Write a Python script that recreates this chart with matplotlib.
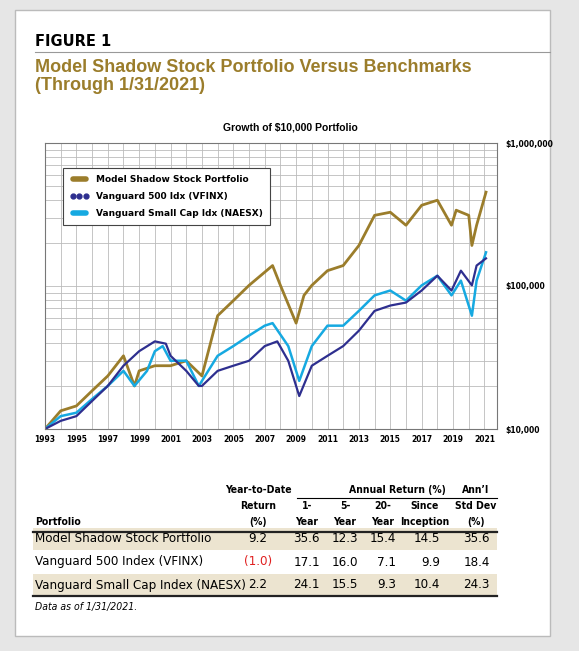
import matplotlib.pyplot as plt
import matplotlib.ticker as mticker
from matplotlib.lines import Line2D
from matplotlib.patches import Rectangle

# growth of $10,000
shadow_t = [1993.0, 1994, 1995, 1996, 1997, 1998, 1998.7, 1999, 2000, 2001, 2002, 2003.0, 2004, 2005, 2006,
            2007.5, 2008, 2009.0, 2009.5, 2010, 2011, 2012, 2013, 2014, 2015, 2016, 2017, 2018, 2018.9,
            2019.2, 2020.0, 2020.2, 2020.5, 2021.1]
shadow_v = [10000, 13400, 14500, 18500, 23500, 32500, 20000, 25500, 27700, 27700, 30000, 23500, 62000, 79000,
            101000, 139000, 101000, 55000, 86000, 101000, 128000, 139000, 192000, 312000, 328000, 266000,
            367000, 398000, 266000, 339000, 312000, 192000, 266000, 453000]

vfinx_t = [1993.0, 1994, 1995, 1996, 1997, 1998, 1999, 2000, 2000.7, 2001, 2002, 2002.8, 2003, 2004, 2005,
           2006, 2007, 2007.8, 2008.5, 2009.2, 2010, 2011, 2012, 2013, 2014, 2015, 2016, 2017, 2018, 2018.9,
           2019.5, 2020.2, 2020.5, 2021.1]
vfinx_v = [10000, 11400, 12300, 15700, 20000, 27700, 35000, 41000, 39500, 32500, 25500, 20000, 20000, 25500,
           27700, 30000, 38000, 41000, 30000, 17000, 27700, 32500, 38000, 48700, 67000, 73000, 76600, 93000,
           118000, 93000, 128000, 101000, 139000, 156000]

naesx_t = [1993.0, 1994, 1995, 1996, 1997, 1998, 1998.7, 1999.5, 2000, 2000.5, 2001, 2002, 2002.8, 2003,
           2004, 2005, 2006, 2007, 2007.5, 2008.5, 2009.2, 2010, 2011, 2012, 2013, 2014, 2015, 2016, 2017,
           2018, 2018.9, 2019.5, 2020.2, 2020.5, 2021.1]
naesx_v = [10000, 12300, 13000, 16200, 20000, 25500, 20000, 25500, 35000, 38000, 30000, 30000, 20000, 21700,
           32500, 38000, 45000, 52800, 55000, 38000, 21700, 38000, 52800, 52800, 67000, 86000, 93000, 79000,
           101000, 118000, 86000, 109000, 62000, 109000, 172000]

rows = ["Model Shadow Stock Portfolio", "Vanguard 500 Index (VFINX)", "Vanguard Small Cap Index (NAESX)"]
ytd = ["9.2", "(1.0)", "2.2"]
yr1 = ["35.6", "17.1", "24.1"]
yr5 = ["12.3", "16.0", "15.5"]
yr20 = ["15.4", "7.1", "9.3"]
incep = ["14.5", "9.9", "10.4"]
stdev = ["35.6", "18.4", "24.3"]

GOLD = "#9b7d2b"
NAVY = "#2e2f8f"
CYAN = "#16a9e1"
W, H = 579, 651

fig = plt.figure(figsize=(W / 100, H / 100), dpi=100)
fig.patch.set_facecolor("#e6e6e6")
fig.patches.append(Rectangle((15 / W, 1 - 636 / H), 535 / W, 626 / H, transform=fig.transFigure,
                             facecolor="white", edgecolor="#bbbbbb", lw=1, zorder=-10))

def fx(x):
    return x / W

def fy(y):
    return 1 - y / H

fig.text(fx(35), fy(42), "FIGURE 1", fontsize=10.5, fontweight="bold", va="center")
fig.add_artist(Line2D([fx(35), fx(550)], [fy(52), fy(52)], color="#999999", lw=0.8))
fig.text(fx(35), fy(67), "Model Shadow Stock Portfolio Versus Benchmarks", fontsize=13, fontweight="bold",
         color=GOLD, va="center", family="Liberation Sans")
fig.text(fx(35), fy(86), "(Through 1/31/2021)", fontsize=13, fontweight="bold", color=GOLD, va="center",
         family="Liberation Sans")
fig.text(fx(290), fy(127), "Growth of $10,000 Portfolio", fontsize=7.5, fontweight="bold", ha="center",
         va="center", family="Liberation Sans")

ax = fig.add_axes([fx(45), fy(429), fx(452), (429 - 143) / H])
ax.plot(shadow_t, shadow_v, color=GOLD, lw=2)
ax.plot(naesx_t, naesx_v, color=CYAN, lw=1.8)
ax.plot(vfinx_t, vfinx_v, color=NAVY, lw=1.6)
ax.set_yscale("log")
ax.set_ylim(10000, 1000000)
ax.set_xlim(1993, 2021.8)
ax.set_xticks(range(1993, 2022, 2))
ax.set_xticks(range(1993, 2022), minor=True)
ax.tick_params(axis="x", which="both", length=0, labelsize=5.5, pad=4)
for t in ax.get_xticklabels():
    t.set_fontweight("bold")
ax.yaxis.tick_right()
ax.set_yticks([10000, 100000, 1000000])
ax.set_yticklabels(["$10,000", "$100,000", "$1,000,000"], fontsize=5.5, fontweight="bold")
ax.yaxis.set_minor_locator(mticker.LogLocator(subs=range(2, 10)))
ax.yaxis.set_minor_formatter(mticker.NullFormatter())
ax.tick_params(axis="y", which="both", length=0, pad=6)
ax.grid(True, which="both", color="#bbbbbb", lw=0.6)
for s in ax.spines.values():
    s.set_color("#777777")

handles = [Line2D([], [], color=GOLD, lw=4, solid_capstyle="round"),
           Line2D([], [], color=NAVY, ls="none", marker="o", ms=3.5),
           Line2D([], [], color=CYAN, lw=4, solid_capstyle="round")]
leg = ax.legend(handles, ["Model Shadow Stock Portfolio", "Vanguard 500 Idx (VFINX)", "Vanguard Small Cap Idx (NAESX)"],
                loc="upper left", bbox_to_anchor=(0.03, 0.93), prop={"weight": "bold", "size": 6.5},
                numpoints=3, handlelength=2, fancybox=False, edgecolor="#444444", framealpha=1, borderpad=0.8,
                labelspacing=0.9)
leg.get_frame().set_linewidth(0.8)

# table
tf = "DejaVu Sans"
hdr = dict(fontsize=7.5, fontweight="bold", family=tf, fontstretch="condensed", va="center", ha="center")
fig.text(fx(258), fy(490), "Year-to-Date", **hdr)
fig.text(fx(258), fy(506), "Return", **hdr)
fig.text(fx(258), fy(522), "(%)", **hdr)
fig.text(fx(397), fy(490), "Annual Return (%)", **hdr)
fig.add_artist(Line2D([fx(297), fx(497)], [fy(498), fy(498)], color="black", lw=0.8))
fig.text(fx(476), fy(490), "Ann\u2019l", **hdr)
fig.text(fx(476), fy(506), "Std Dev", **hdr)
fig.text(fx(476), fy(522), "(%)", **hdr)
for x, a, b in [(307, "1-", "Year"), (345, "5-", "Year"), (383, "20-", "Year"), (425, "Since", "Inception")]:
    fig.text(fx(x), fy(506), a, **hdr)
    fig.text(fx(x), fy(522), b, **hdr)
fig.text(fx(35), fy(522), "Portfolio", fontsize=7.5, fontweight="bold", family=tf, fontstretch="condensed",
         va="center")

fig.add_artist(Line2D([fx(33), fx(497)], [fy(532), fy(532)], color="#222222", lw=1.6))
row_y = [539, 562, 585]
for i, y in enumerate(row_y):
    if i != 1:
        fig.patches.append(Rectangle((fx(33), fy(y + 11)), fx(464), 22 / H, transform=fig.transFigure,
                                     facecolor="#ece4d0", edgecolor="none", zorder=1))
    cell = dict(fontsize=9.5, family=tf, fontstretch="condensed", va="center", zorder=2)
    fig.text(fx(35), fy(y), rows[i], **cell)
    fig.text(fx(258), fy(y), ytd[i], ha="center", color="#e02020" if ytd[i].startswith("(") else "black", **cell)
    for x, col in [(320, yr1), (358, yr5), (396, yr20), (440, incep), (490, stdev)]:
        fig.text(fx(x), fy(y), col[i], ha="right", **cell)
fig.add_artist(Line2D([fx(33), fx(497)], [fy(596), fy(596)], color="#222222", lw=1.6))
fig.text(fx(35), fy(607), "Data as of 1/31/2021.", fontsize=7.5, style="italic", family=tf,
         fontstretch="condensed", va="center")

fig.savefig("out.png", dpi=100, facecolor=fig.get_facecolor())
